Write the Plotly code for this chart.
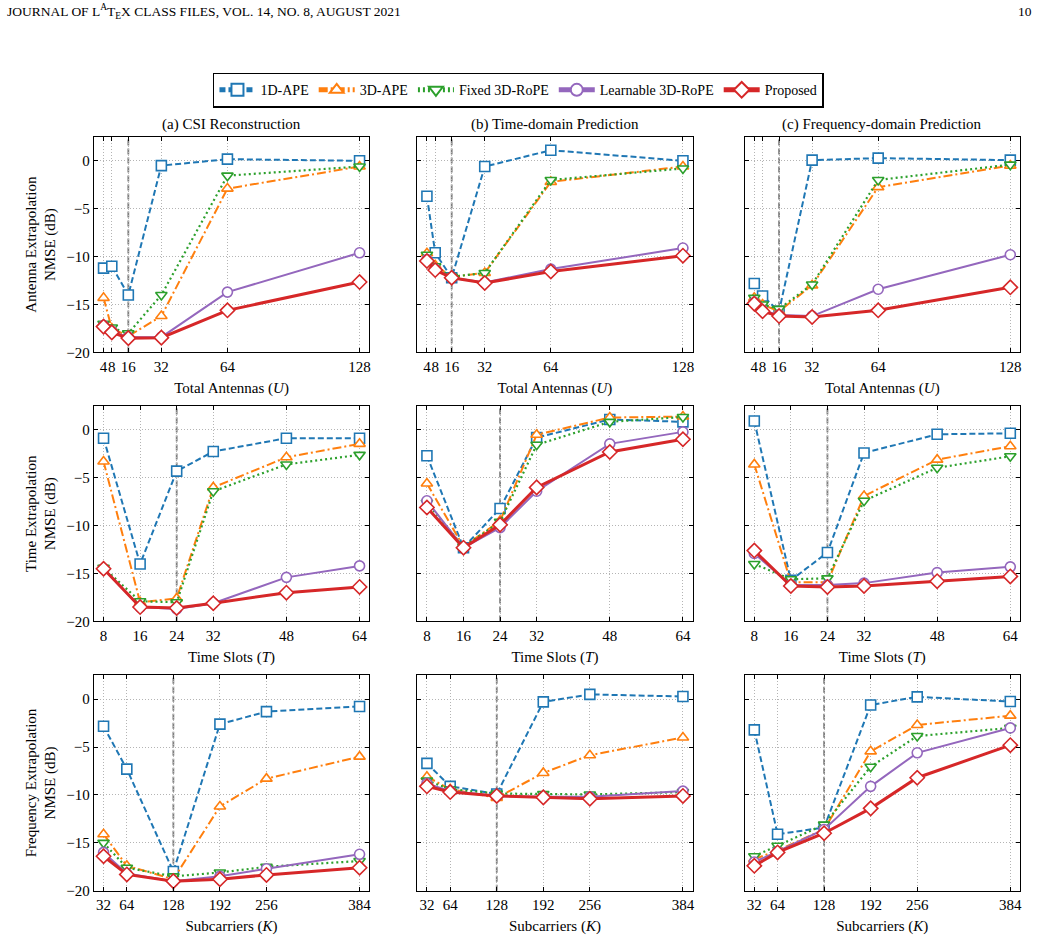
import plotly.graph_objects as go

W, H = 1041, 947

series_names = ["1D-APE", "3D-APE", "Fixed 3D-RoPE", "Learnable 3D-RoPE", "Proposed"]
antennas = [4, 8, 16, 32, 64, 128]
time_slots = [8, 16, 24, 32, 48, 64]
subcarriers = [32, 64, 128, 192, 256, 384]

col_titles = ["(a) CSI Reconstruction", "(b) Time-domain Prediction", "(c) Frequency-domain Prediction"]
row_ytitles = ["Antenna Extrapolation<br>NMSE (dB)", "Time Extrapolation<br>NMSE (dB)",
               "Frequency Extrapolation<br>NMSE (dB)"]
row_xtitles = ["Total Antennas (<i>U</i>)", "Time Slots (<i>T</i>)", "Subcarriers (<i>K</i>)"]
row_vline = [16, 24, 128]
y_ticks = [0, -5, -10, -15, -20]

# series order: 1D-APE, 3D-APE, Fixed 3D-RoPE, Learnable 3D-RoPE, Proposed
ant_csi = [
    [-11.2, -11.0, -14.0, -0.5, 0.17, 0.0],
    [-14.3, -17.5, -18.3, -16.2, -2.9, -0.6],
    [-17.0, -17.4, -18.0, -14.0, -1.55, -0.6],
    [-17.2, -17.8, -18.4, -18.4, -13.7, -9.6],
    [-17.3, -17.9, -18.5, -18.45, -15.6, -12.65],
]
ant_time = [
    [-3.7, -9.6, -12.2, -0.6, 1.1, 0.0],
    [-9.65, -10.9, -12.1, -11.7, -2.2, -0.6],
    [-9.8, -11.0, -12.1, -11.7, -2.0, -0.8],
    [-10.3, -11.3, -12.2, -12.7, -11.3, -9.1],
    [-10.45, -11.4, -12.2, -12.75, -11.55, -9.9],
]
ant_freq = [
    [-12.8, -14.1, -15.7, 0.07, 0.28, 0.07],
    [-14.3, -15.0, -15.7, -13.0, -2.75, -0.5],
    [-14.3, -15.0, -15.45, -12.9, -2.0, -0.4],
    [-14.8, -15.6, -16.1, -16.2, -13.4, -9.8],
    [-14.9, -15.7, -16.2, -16.3, -15.6, -13.2],
]
tim_csi = [
    [-0.86, -14.0, -4.3, -2.25, -0.86, -0.86],
    [-3.3, -18.0, -17.6, -6.0, -2.85, -1.45],
    [-14.4, -17.9, -18.0, -6.4, -3.6, -2.6],
    [-14.5, -18.5, -18.7, -18.1, -15.4, -14.2],
    [-14.5, -18.5, -18.6, -18.1, -17.0, -16.4],
]
tim_time = [
    [-2.7, -12.3, -8.2, -0.8, 1.1, 0.85],
    [-5.6, -12.2, -9.5, -0.5, 1.3, 1.4],
    [-7.6, -12.2, -9.6, -1.55, 0.85, 1.35],
    [-7.4, -12.3, -10.2, -6.4, -1.45, -0.2],
    [-8.1, -12.3, -9.9, -6.0, -2.3, -0.97],
]
tim_freq = [
    [0.93, -15.7, -12.8, -2.4, -0.45, -0.35],
    [-3.6, -15.9, -15.9, -6.9, -3.1, -1.7],
    [-14.0, -15.6, -15.5, -7.4, -3.95, -2.75],
    [-12.9, -16.2, -16.2, -16.0, -14.9, -14.3],
    [-12.6, -16.3, -16.4, -16.3, -15.8, -15.3],
]
frq_csi = [
    [-2.83, -7.3, -18.0, -2.6, -1.3, -0.76],
    [-14.1, -17.4, -18.8, -11.2, -8.3, -6.0],
    [-15.0, -17.6, -18.5, -18.1, -17.5, -16.9],
    [-16.0, -18.2, -19.0, -18.5, -17.7, -16.2],
    [-16.4, -18.3, -19.0, -18.8, -18.35, -17.6],
]
frq_time = [
    [-6.7, -9.1, -9.9, -0.28, 0.5, 0.28],
    [-8.1, -9.4, -10.3, -7.7, -5.85, -4.0],
    [-8.5, -9.4, -9.85, -9.9, -9.95, -9.7],
    [-8.8, -9.6, -10.1, -10.2, -10.2, -9.6],
    [-9.1, -9.7, -10.1, -10.25, -10.4, -10.1],
]
frq_freq = [
    [-3.2, -14.1, -13.4, -0.6, 0.24, -0.24],
    [-16.7, -15.8, -13.6, -5.45, -2.7, -1.72],
    [-16.4, -15.3, -13.1, -7.05, -3.85, -3.0],
    [-17.0, -15.9, -13.6, -9.1, -5.6, -3.0],
    [-17.4, -16.0, -14.0, -11.4, -8.2, -4.8],
]

row_x = [antennas, time_slots, subcarriers]
panels = [[ant_csi, ant_time, ant_freq], [tim_csi, tim_time, tim_freq], [frq_csi, frq_time, frq_freq]]

colors = ["#1f77b4", "#ff7f0e", "#2ca02c", "#9467bd", "#d62728"]
symbols = ["square", "triangle-up", "triangle-down", "circle", "diamond"]
dashes = ["6px,3px", "9px,3px,2px,3px", "2px,3px", "solid", "solid"]
widths = [2, 2, 2.2, 2, 3]
msizes = [10, 10, 10, 10, 11]

FONT = "Liberation Serif"
FS = 15

# pixel geometry of axes frames
col_px = [(94, 370), (418, 694), (746, 1022)]
row_px = [(138, 355.5), (409.5, 626.7), (681, 898.3)]


def xr(vals):
    lo, hi = min(vals), max(vals)
    m = (hi - lo) * 0.038
    return [lo - m, hi + m]


fig = go.Figure()
layout = dict(
    width=W, height=H, margin=dict(l=0, r=0, t=0, b=0),
    paper_bgcolor="white", plot_bgcolor="white",
    font=dict(family=FONT, size=FS, color="black"),
    showlegend=True,
    legend=dict(orientation="h", x=0.499, y=1 - 91 / H, xanchor="center", yanchor="middle",
                bordercolor="black", borderwidth=1.5, bgcolor="white",
                font=dict(family=FONT, size=14), tracegroupgap=0, itemwidth=36,
                itemsizing="constant"),
)
shapes = []
annotations = []

for r in range(3):
    for c in range(3):
        idx = r * 3 + c + 1
        xa = "x" if idx == 1 else f"x{idx}"
        ya = "y" if idx == 1 else f"y{idx}"
        data = panels[r][c]
        for s in range(5):
            fig.add_trace(go.Scatter(
                x=row_x[r], y=data[s], mode="lines+markers", name=series_names[s],
                xaxis=xa, yaxis=ya, showlegend=(idx == 1),
                line=dict(color=colors[s], width=widths[s], dash=dashes[s]),
                marker=dict(symbol=symbols[s], size=msizes[s], color="white",
                            line=dict(color=colors[s], width=1.6)),
                cliponaxis=True,
            ))
        x0, x1 = col_px[c]
        t0, t1 = row_px[r]
        axcommon = dict(showline=True, mirror="allticks", linecolor="black", linewidth=1.3,
                        ticks="inside", ticklen=4, tickwidth=1, tickcolor="black",
                        showgrid=True, gridcolor="#b4b4b4", griddash="1px,2px", gridwidth=1,
                        zeroline=False, tickfont=dict(family=FONT, size=FS))
        xdict = dict(
            domain=[x0 / W, x1 / W], anchor=ya, range=xr(row_x[r]), tickangle=0,
            tickmode="array", tickvals=row_x[r], ticktext=[str(v) for v in row_x[r]],
            title=dict(text=row_xtitles[r], font=dict(family=FONT, size=FS), standoff=8),
            **axcommon)
        ydict = dict(
            domain=[1 - t1 / H, 1 - t0 / H], anchor=xa, range=[-20, 2.5],
            tickmode="array", tickvals=y_ticks, showticklabels=(c == 0),
            **axcommon)
        if c == 0:
            ydict["title"] = dict(text=row_ytitles[r], font=dict(family=FONT, size=FS), standoff=6)
        layout["xaxis" if idx == 1 else f"xaxis{idx}"] = xdict
        layout["yaxis" if idx == 1 else f"yaxis{idx}"] = ydict
        shapes.append(dict(type="line", xref=xa, yref=f"{ya} domain", x0=row_vline[r], x1=row_vline[r],
                           y0=0, y1=1, line=dict(color="#7f7f7f", width=1.8, dash="6px,3px"), layer="below"))
        if r == 0:
            annotations.append(dict(text=col_titles[c], xref="paper", yref="paper",
                                    x=(x0 + x1) / 2 / W, y=1 - 126 / H, xanchor="center", yanchor="middle",
                                    showarrow=False, font=dict(family=FONT, size=FS)))

annotations.append(dict(text="JOURNAL OF L<sup>A</sup>T<sub>E</sub>X CLASS FILES, VOL. 14, NO. 8, AUGUST 2021",
                        xref="paper", yref="paper", x=5 / W, y=1 - 12 / H, xanchor="left", yanchor="middle",
                        showarrow=False, font=dict(family=FONT, size=13.5)))
annotations.append(dict(text="10", xref="paper", yref="paper", x=1036 / W, y=1 - 12 / H, xanchor="right",
                        yanchor="middle", showarrow=False, font=dict(family=FONT, size=13.5)))

layout["shapes"] = shapes
layout["annotations"] = annotations
fig.update_layout(**layout)
fig.write_html("out.html")
